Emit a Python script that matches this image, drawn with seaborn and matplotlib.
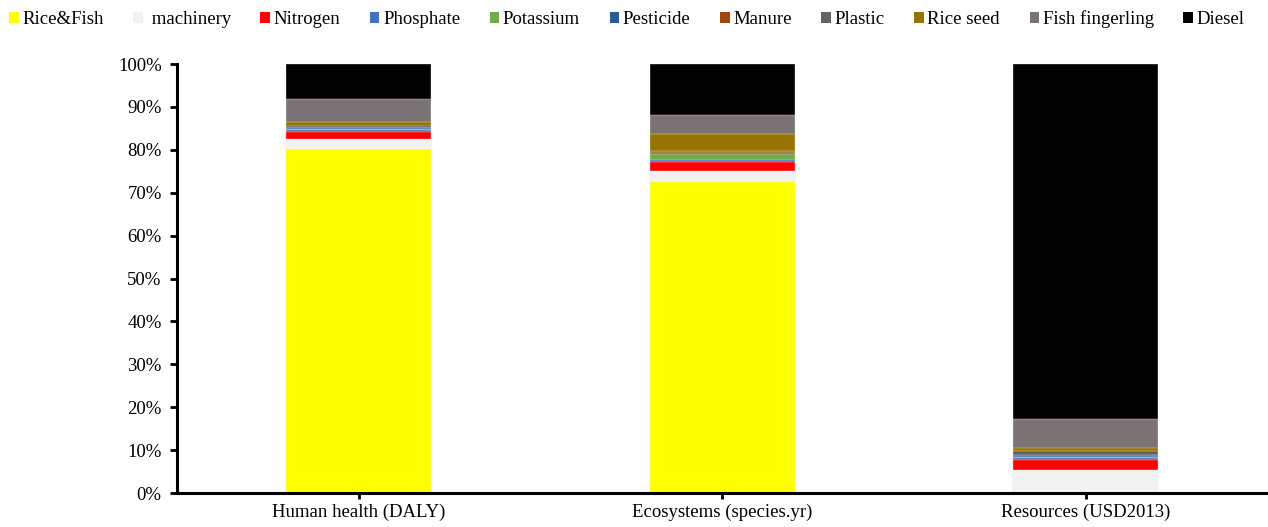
import matplotlib
matplotlib.use("Agg")
import matplotlib.pyplot as plt
import seaborn as sns
import numpy as np
import pandas as pd
from matplotlib.patches import Patch
from matplotlib.ticker import PercentFormatter

# Impact categories (x axis)
categories = ["Human health (DALY)", "Ecosystems (species.yr)", "Resources (USD2013)"]

# Contribution of each input to the impact category, in percent
rice_fish = [80.2, 72.5, 0.0]
machinery = [2.3, 2.6, 5.4]
nitrogen = [1.6, 2.0, 2.2]
phosphate = [0.6, 0.5, 0.6]
potassium = [0.1, 1.4, 0.1]
pesticide = [0.3, 0.3, 0.4]
manure = [0.1, 0.1, 0.1]
plastic = [0.4, 0.3, 0.9]
rice_seed = [0.9, 4.1, 0.9]
fish_fingerling = [5.4, 4.3, 6.6]
diesel = [8.1, 11.9, 82.8]

series_names = ["Rice&Fish", " machinery", "Nitrogen", "Phosphate", "Potassium",
                "Pesticide", "Manure", "Plastic", "Rice seed", "Fish fingerling", "Diesel"]
series_values = [rice_fish, machinery, nitrogen, phosphate, potassium,
                 pesticide, manure, plastic, rice_seed, fish_fingerling, diesel]
series_colors = ["#FFFF00", "#F2F2F2", "#FF0000", "#4472C4", "#70AD47",
                 "#255E91", "#9E480E", "#636363", "#997300", "#7B7373", "#000000"]

plt.rcParams["font.family"] = ["Liberation Serif", "DejaVu Serif"]

df = pd.DataFrame(dict(zip(series_names, series_values)), index=categories)
cum = df.cumsum(axis=1)

fig = plt.figure(figsize=(12.68, 5.27), dpi=100)
ax = fig.add_axes([0.1396, 0.0645, 0.86, 0.814])

# Stack by drawing cumulative totals from the top segment down
for name, color in reversed(list(zip(series_names, series_colors))):
    sns.barplot(x=categories, y=cum[name].values, color=color, width=0.4,
                edgecolor="#F4F4F4", linewidth=0.25, saturation=1, ax=ax)

ax.set_ylim(0, 100)
ax.set_xlim(-0.5, 2.5)
ax.set_yticks(np.arange(0, 101, 10))
ax.yaxis.set_major_formatter(PercentFormatter(decimals=0))
ax.set_xlabel("")
ax.set_ylabel("")
for s in ["top", "right"]:
    ax.spines[s].set_visible(False)
for s in ["left", "bottom"]:
    ax.spines[s].set_linewidth(2.2)
    ax.spines[s].set_color("black")
ax.tick_params(axis="y", length=5, width=2, labelsize=13.5, pad=6)
ax.tick_params(axis="x", length=4, width=2, labelsize=13.5, pad=4)

handles = [Patch(facecolor=c, edgecolor="none") for c in series_colors]
fig.legend(handles, series_names, loc="upper left", bbox_to_anchor=(-0.003, 1.006),
           ncol=11, frameon=False, fontsize=13.5, handlelength=0.5, handleheight=0.55,
           handletextpad=0.2, columnspacing=1.58, borderaxespad=0.3)

fig.savefig("out.png", dpi=100)
